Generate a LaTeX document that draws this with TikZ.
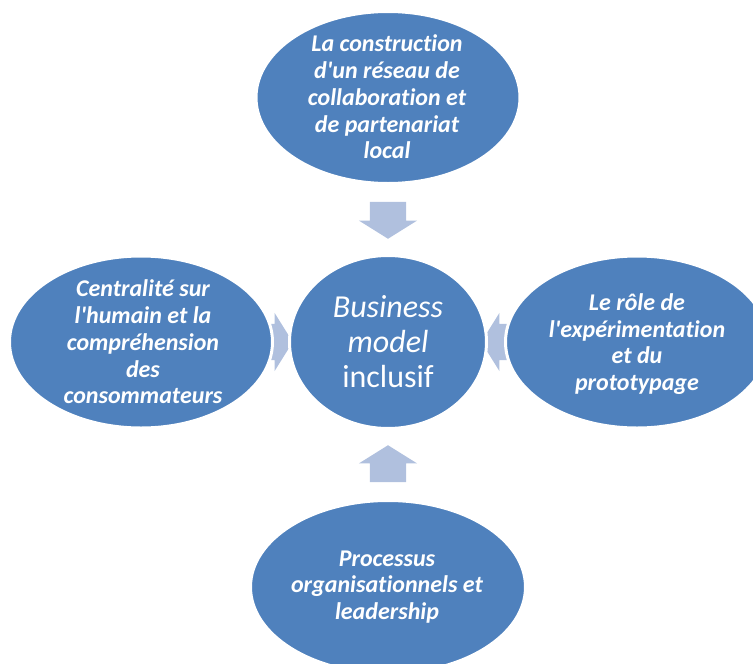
\documentclass[tikz,border=0pt]{standalone}
\usepackage{fontspec}
\setmainfont{Carlito}[Ligatures={NoCommon}]
\usetikzlibrary{shapes.geometric,shapes.arrows}
\definecolor{bub}{HTML}{4F81BD}
\definecolor{arr}{RGB}{176,192,222}
\newcommand{\ap}{\textquotesingle}
\begin{document}
\begin{tikzpicture}[x=1pt,y=-1pt,
  bubble/.style={ellipse, fill=bub, draw=white, line width=3pt, inner sep=0pt},
  blockarrow/.style={single arrow, fill=arr, draw=none, text height=36pt, text depth=0pt,
    text width=0pt, minimum height=37pt, single arrow head extend=11pt, single arrow tip angle=116,
    inner sep=0pt, anchor=tip},
  txt/.style={text=white, font=\fontsize{24}{26.7}\selectfont\bfseries\itshape, align=center, inner sep=0pt},
  ctxt/.style={text=white, font=\fontsize{32}{35}\selectfont, align=center, inner sep=0pt}]
\useasboundingbox (0,0) rectangle (753,664);
% block arrows
\node[blockarrow, rotate=-90] (aTop) at (388,239) {};
\node[blockarrow, rotate=90] (aBottom) at (388,445) {};
\node[blockarrow] (aLeft) at (293,342) {};
\node[blockarrow, rotate=180] (aRight) at (481,342) {};
% ellipses
\node[bubble, minimum width=264pt, minimum height=172pt] (eTop) at (388,97.5) {};
\node[bubble, minimum width=263pt, minimum height=172pt] (eLeft) at (141,342) {};
\node[bubble, minimum width=197pt, minimum height=173pt] (eCenter) at (388,342) {};
\node[bubble, minimum width=263pt, minimum height=172pt] (eRight) at (637,342) {};
\node[bubble, minimum width=275pt, minimum height=173pt] (eBottom) at (388,587) {};
% texts
\node[txt] (tTop) at (387,97) {La construction\\d\ap un réseau de\\collaboration et\\de partenariat\\local};
\node[txt] (tLeft) at (143,342) {Centralité sur\\l\ap humain et la\\compréhension\\des\\consommateurs};
\node[txt] (tRight) at (637,344) {Le rôle de\\l\ap expérimentation\\et du\\prototypage};
\node[txt] (tBottom) at (387,587) {Processus\\organisationnels et\\leadership};
\node[ctxt] (tCenter) at (388,342) {\textit{Business}\\\textit{model}\\inclusif};
\end{tikzpicture}
\end{document}
